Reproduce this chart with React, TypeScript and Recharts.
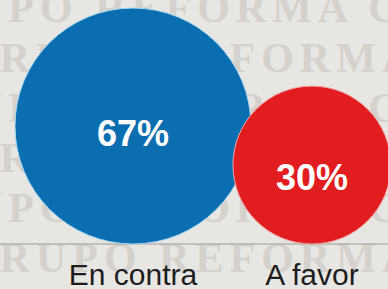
import React from 'react';
import { ScatterChart, Scatter, XAxis, YAxis, ZAxis } from 'recharts';

// ---- data ----
const categories = ['En contra', 'A favor'];
const values = [67, 30];
const valueLabels = ['67%', '30%'];
const watermarkWords = ['GRUPO REFORMA GRUPO REFORMA', 'GRUPO REFORMA GRUPO REFORMA'];

// ---- styles ----
const COLORS = ['#0a6eb0', '#e11d20'];
const RIMS = ['#a9d8f2', '#f3a6a6'];
const W = 388;
const H = 289;
const MAX_R = 118;
const maxValue = Math.max(...values);

const data = categories.map((c, i) => ({ x: i, y: 0, value: values[i], name: c, label: valueLabels[i] }));

const Bubble = (props: any) => {
  const { cx, cy, payload, size } = props;
  if (cx == null || cy == null) return null;
  const r = size ? Math.sqrt(size / Math.PI) : MAX_R * Math.sqrt(payload.value / maxValue);
  const i = payload.x;
  const centerY = cy - r;
  const baseline = centerY + 34 - 0.115 * r;
  return (
    <g>
      <circle cx={cx} cy={centerY} r={r} fill={COLORS[i]} stroke={RIMS[i]} strokeWidth={1} />
      <text
        x={cx}
        y={baseline}
        textAnchor="middle"
        fill="#ffffff"
        fontFamily="Liberation Sans, Arial, sans-serif"
        fontWeight={700}
        fontSize={36}
      >
        {payload.label}
      </text>
    </g>
  );
};

const rowBaselines = [22, 72, 122, 172, 222, 272];

const Watermark = () => (
  <svg width={W} height={H} style={{ position: 'absolute', left: 0, top: 0 }}>
    <rect x={0} y={0} width={W} height={H} fill="#e8e6e2" />
    {rowBaselines.map((b, k) => (
      <text
        key={k}
        x={k % 2 === 0 ? -103 : -39}
        y={b}
        fill="#d5d2cd"
        fontFamily="Liberation Serif, DejaVu Serif, serif"
        fontWeight={700}
        fontSize={42}
        letterSpacing={6}
      >
        {watermarkWords[k % 2]}
      </text>
    ))}
  </svg>
);

export default function App() {
  return (
    <div style={{ position: 'absolute', left: 0, top: 0, width: W, height: H, overflow: 'hidden' }}>
      <Watermark />
      <div style={{ position: 'absolute', left: 0, top: 0 }}>
        <ScatterChart width={W} height={H} margin={{ top: 0, right: 0, bottom: 0, left: 0 }}>
          <XAxis
            type="number"
            dataKey="x"
            domain={[-0.743, 1.425]}
            ticks={[0, 1]}
            tickFormatter={(v: number) => categories[v] ?? ''}
            height={45}
            tickLine={false}
            tickSize={0}
            tickMargin={20}
            axisLine={{ stroke: '#9d9b97', strokeWidth: 1 }}
            tick={{ fill: '#1d1d1d', fontSize: 30, fontFamily: 'Liberation Sans, Arial, sans-serif' }}
            interval={0}
          />
          <YAxis type="number" dataKey="y" domain={[0, 1]} hide width={0} />
          <ZAxis type="number" dataKey="value" domain={[0, maxValue]} range={[0, Math.PI * MAX_R * MAX_R]} />
          <Scatter data={data} shape={Bubble} isAnimationActive={false} />
        </ScatterChart>
      </div>
    </div>
  );
}
